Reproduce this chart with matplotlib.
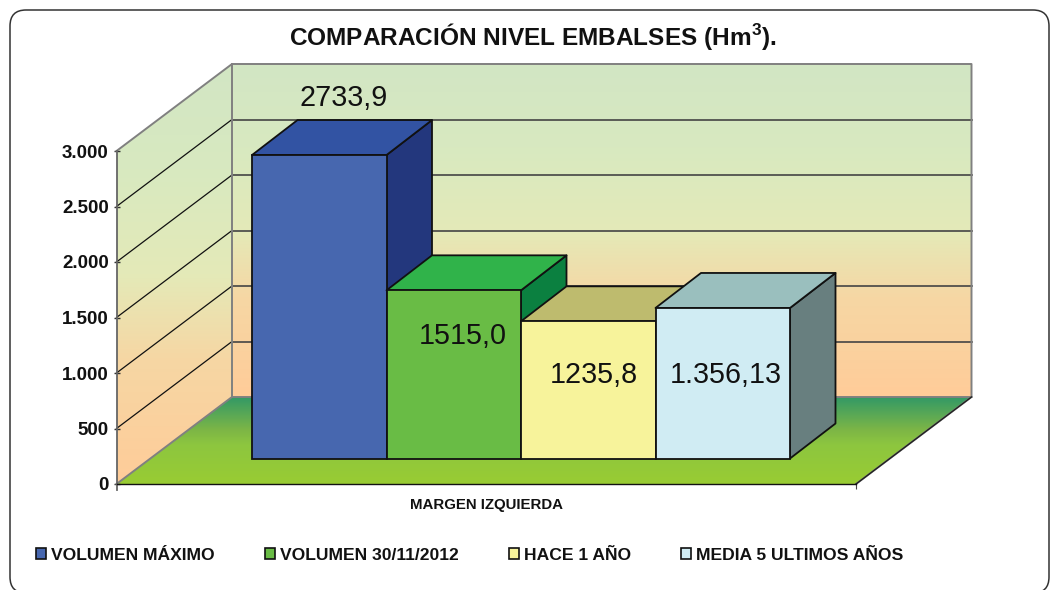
import matplotlib
matplotlib.use("Agg")
import matplotlib.pyplot as plt
import numpy as np
from matplotlib.colors import LinearSegmentedColormap
from matplotlib.patches import FancyBboxPatch, Patch, Polygon
from matplotlib.transforms import IdentityTransform

plt.rcParams['font.family'] = ['Liberation Sans', 'DejaVu Sans']
plt.rcParams['mathtext.fontset'] = 'custom'
plt.rcParams['mathtext.bf'] = 'Liberation Sans:bold'

# data
series = ['VOLUMEN MÁXIMO', 'VOLUMEN 30/11/2012', 'HACE 1 AÑO', 'MEDIA 5 ULTIMOS AÑOS']
values = [2733.9, 1515.0, 1235.8, 1356.13]
value_labels = ['2733,9', '1515,0', '1235,8', '1.356,13']
category = 'MARGEN IZQUIERDA'
y_ticks = [0, 500, 1000, 1500, 2000, 2500, 3000]
y_tick_labels = ['0', '500', '1.000', '1.500', '2.000', '2.500', '3.000']

# colours: front, top, side
front_colors = ['#4767AF', '#69BC45', '#F7F39B', '#D0ECF3']
top_colors = ['#3253A3', '#30B34A', '#BEBB6E', '#9ABFBE']
side_colors = ['#23377D', '#0B8040', '#7C7A45', '#687F7F']

# projection of the fake 3d box, in axis units
px_x = 134.5      # pixels per bar width
px_y = 0.111      # pixels per unit of volume
wall_dx = 115.5 / px_x
wall_dy = 87 / px_y
bar_dx = 45.5 / px_x
bar_dy = 35 / px_y
base_x = 135.5 / px_x
base_y = 25.5 / px_y
floor_w = 739.5 / px_x
y_max = y_ticks[-1]

fig = plt.figure(figsize=(10.5, 5.9), dpi=100)
ax = fig.add_axes([0, 0, 1, 1])
ax.patch.set_alpha(0)

# rounded frame
fig.patches.append(FancyBboxPatch((26, 13), 1007, 551, boxstyle='round,pad=16,rounding_size=16',
                                  transform=IdentityTransform(), fc='white', ec='#333333', lw=1.1, zorder=-1))


def gradient(poly, stops, y0, y1, zorder):
    cmap = LinearSegmentedColormap.from_list('g', stops)
    xs = [p[0] for p in poly]
    im = ax.imshow(np.linspace(0, 1, 256).reshape(-1, 1), cmap=cmap, aspect='auto', origin='lower',
                   extent=(min(xs), max(xs), y0, y1), zorder=zorder, interpolation='bilinear')
    clip = Polygon(poly, transform=ax.transData, fc='none', ec='none')
    ax.add_patch(clip)
    im.set_clip_path(clip)


wall_stops = [(0, '#FFCC99'), (0.3, '#F6D7A4'), (0.5, '#E4EAB8'), (0.75, '#D8E9C0'), (1, '#D2E6C4')]
floor_stops = [(0, '#99CC33'), (0.45, '#8DC63F'), (0.62, '#7DB646'), (1, '#339966')]

back = [(wall_dx, wall_dy), (wall_dx + floor_w, wall_dy), (wall_dx + floor_w, wall_dy + y_max), (wall_dx, wall_dy + y_max)]
side = [(0, 0), (wall_dx, wall_dy), (wall_dx, wall_dy + y_max), (0, y_max)]
floor = [(0, 0), (floor_w, 0), (floor_w + wall_dx, wall_dy), (wall_dx, wall_dy)]

gradient(back, wall_stops, wall_dy, wall_dy + y_max, 1)
gradient(side, wall_stops, 0, wall_dy + y_max, 1)
gradient(floor, floor_stops, 0, wall_dy, 1)

# gridlines on the walls
for t in y_ticks[1:-1]:
    ax.plot([0, wall_dx], [t, t + wall_dy], color='#111111', lw=0.9, zorder=2)
    ax.plot([wall_dx, wall_dx + floor_w], [t + wall_dy, t + wall_dy], color='#444444', lw=1.2, zorder=2)

# wall outlines
ax.plot([0, wall_dx, wall_dx + floor_w, wall_dx + floor_w, floor_w],
        [y_max, y_max + wall_dy, y_max + wall_dy, wall_dy, 0], color='#808080', lw=1.4, zorder=2)
ax.plot([wall_dx, wall_dx], [wall_dy, wall_dy + y_max], color='#808080', lw=1.4, zorder=2)
ax.plot([0, wall_dx, wall_dx + floor_w], [0, wall_dy, wall_dy], color='#808080', lw=1.4, zorder=2)
ax.plot([floor_w, floor_w + wall_dx], [0, wall_dy], color='#222222', lw=1.0, zorder=2)

# bars, left to right so each one covers the side of the one before
lefts = base_x + np.arange(len(values))
for i, (x, v) in enumerate(zip(lefts, values)):
    zo = 3 + i
    top = base_y + v
    ax.add_patch(Polygon([(x + 1, base_y), (x + 1 + bar_dx, base_y + bar_dy),
                          (x + 1 + bar_dx, top + bar_dy), (x + 1, top)],
                         fc=side_colors[i], ec='#111111', lw=1.3, zorder=zo, joinstyle='round'))
    ax.add_patch(Polygon([(x, top), (x + bar_dx, top + bar_dy), (x + 1 + bar_dx, top + bar_dy), (x + 1, top)],
                         fc=top_colors[i], ec='#111111', lw=1.3, zorder=zo, joinstyle='round'))
    ax.bar(x, v, width=1, bottom=base_y, align='edge', color=front_colors[i], edgecolor='#111111',
           linewidth=1.3, zorder=zo)

# value labels
label_pos = [(lefts[0] + 0.68, base_y + values[0] + bar_dy + 200),
             (lefts[1] + 0.57, 1330), (lefts[2] + 0.54, 980), (lefts[3] + 0.52, 980)]
for (x, y), s in zip(label_pos, value_labels):
    ax.text(x, y, s, ha='center', va='center', fontsize=20.7, color='#111111', zorder=10)

ax.set_xlim(-116.5 / px_x, (1050 - 116.5) / px_x)
ax.set_ylim((484 - 590) / px_y, 484 / px_y)

# axes
for s in ['top', 'right']:
    ax.spines[s].set_visible(False)
ax.spines['left'].set_position(('data', 0))
ax.spines['left'].set_bounds(-50, y_max)
ax.spines['left'].set_color('#666666')
ax.spines['left'].set_linewidth(1.3)
ax.spines['left'].set_zorder(9)
ax.spines['bottom'].set_position(('data', 0))
ax.spines['bottom'].set_bounds(0, floor_w)
ax.spines['bottom'].set_color('#111111')
ax.spines['bottom'].set_linewidth(1.0)
ax.spines['bottom'].set_zorder(9)

ax.set_yticks(y_ticks, y_tick_labels, fontsize=13.5, fontweight='bold', color='#111111')
ax.tick_params(axis='y', direction='inout', length=4, width=1, color='#333333', pad=3.5)
ax.set_xticks([floor_w / 2], [category], fontsize=10.8, fontweight='bold', color='#111111')
ax.tick_params(axis='x', which='major', length=0, pad=10)
ax.set_xticks([floor_w], minor=True)
ax.tick_params(axis='x', which='minor', length=3.5, width=0.8, color='#444444', direction='out')

fig.text(532.5 / 1050, 1 - 37 / 590, r'COMPARACIÓN NIVEL EMBALSES (Hm$^{\mathbf{3}}$).', ha='center', va='center',
         fontsize=17.6, fontweight='bold', color='#111111')

handles = [Patch(fc=c, ec='#111111', lw=1.2) for c in front_colors]
leg = ax.legend(handles, series, ncol=4, frameon=False, loc='center left', bbox_to_anchor=(36 / 1050, 1 - 555 / 590),
                bbox_transform=fig.transFigure, prop={'size': 12.6, 'weight': 'bold'}, columnspacing=2.85,
                handlelength=0.57, handleheight=0.57, handletextpad=0.3, borderpad=0, borderaxespad=0)
for t in leg.get_texts():
    t.set_color('#111111')

fig.savefig('out.png', dpi=100)
